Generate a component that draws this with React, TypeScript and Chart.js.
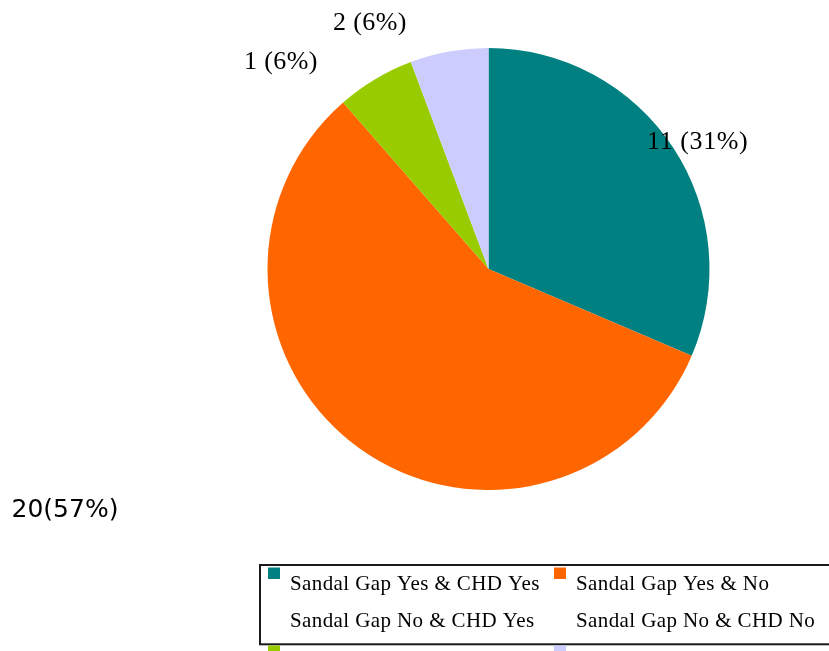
import React, { useEffect, useRef } from "react";
import { Chart, registerables } from "chart.js";

Chart.register(...registerables);

const categories = [
  "Sandal Gap Yes & CHD Yes",
  "Sandal Gap Yes & No",
  "Sandal Gap No & CHD Yes",
  "Sandal Gap No & CHD No",
];
const counts = [11, 20, 2, 2];
const valueLabels = ["11 (31%)", "20(57%)", "1 (6%)", "2 (6%)"];
const sliceColors = ["#008080", "#FF6600", "#99CC00", "#CCCCFF"];

const W = 829;
const H = 651;

// label placement (style): offset of text left/baseline from pie centre
const labelOffsets = [
  { dx: 158.5, dy: -120 },
  { dx: -477, dy: 248 },
  { dx: -244.5, dy: -200 },
  { dx: -155.5, dy: -239 },
];
const labelFonts = [
  "26px 'Liberation Serif', serif",
  "25px 'DejaVu Sans', sans-serif",
  "26px 'Liberation Serif', serif",
  "26px 'Liberation Serif', serif",
];
const labelSpacing = ["0.6px", "0px", "0.4px", "0.4px"];

const labelsPlugin = {
  id: "customLabels",
  afterDraw(chart: any) {
    const ctx = chart.ctx as any;
    const meta = chart.getDatasetMeta(0);
    const arc = meta.data[0];
    const cx = arc.x;
    const cy = arc.y;
    ctx.save();
    ctx.fillStyle = "#000";
    ctx.textAlign = "left";
    ctx.textBaseline = "alphabetic";
    valueLabels.forEach((t, i) => {
      ctx.font = labelFonts[i];
      ctx.letterSpacing = labelSpacing[i];
      ctx.fillText(t, cx + labelOffsets[i].dx, cy + labelOffsets[i].dy);
    });

    // legend
    const bx = 260;
    const by = 565;
    const bh = 79.3;
    ctx.letterSpacing = "0px";
    ctx.lineWidth = 2;
    ctx.strokeStyle = "#1a1a1a";
    ctx.strokeRect(bx, by, 700, bh);
    const colX = [268, 554];
    const textX = [290, 576];
    const labels = chart.data.labels as string[];
    const colors = chart.data.datasets[0].backgroundColor as string[];
    ctx.font = "21px 'Liberation Serif', serif";
    ctx.letterSpacing = "0.4px";
    labels.forEach((lab, i) => {
      const col = i % 2;
      const row = Math.floor(i / 2);
      ctx.fillStyle = colors[i];
      ctx.fillRect(colX[col], 567.5 + row * 78, 12, 11.5);
      ctx.fillStyle = "#000";
      ctx.fillText(lab, textX[col], 590 + row * 37);
    });
    ctx.restore();
  },
};

export default function App() {
  const ref = useRef<HTMLCanvasElement | null>(null);
  useEffect(() => {
    if (!ref.current) return;
    const chart = new Chart(ref.current, {
      type: "pie",
      data: {
        labels: categories,
        datasets: [
          {
            data: counts,
            backgroundColor: sliceColors,
            borderWidth: 0,
          },
        ],
      },
      options: {
        responsive: false,
        animation: false,
        layout: {
          padding: { left: 267.5, right: 119.5, top: 48, bottom: 161 },
        },
        plugins: {
          legend: { display: false },
          tooltip: { enabled: false },
        },
      },
      plugins: [labelsPlugin],
    });
    return () => chart.destroy();
  }, []);
  return (
    <div style={{ position: "absolute", left: 0, top: 0, width: W, height: H, background: "#fff" }}>
      <canvas ref={ref} width={W} height={H} style={{ display: "block" }} />
    </div>
  );
}
